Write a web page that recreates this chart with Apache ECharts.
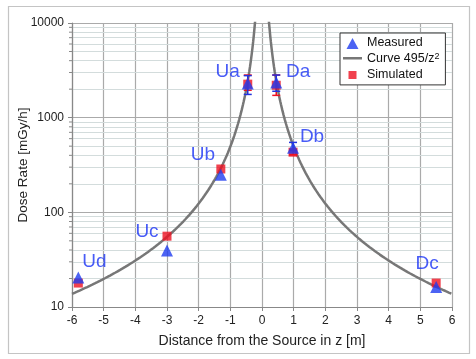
<!DOCTYPE html>
<html>
<head>
<meta charset="utf-8">
<script src="https://cdn.jsdelivr.net/npm/echarts@6/dist/echarts.min.js"></script>
<style>
html, body { margin: 0; padding: 0; background: #fff; }
#main { width: 476px; height: 359px; }
</style>
</head>
<body>
<div id="main"></div>
<script>
// detector positions, upstream (U) to downstream (D)
var pointNames = ['Ud', 'Uc', 'Ub', 'Ua', 'Da', 'Db', 'Dc'];
var pointZ = [-5.8, -3.0, -1.3, -0.45, 0.45, 0.98, 5.5];
var measured = [20.5, 39.5, 250, 2290, 2350, 480, 16.3];
var measLow = [null, null, null, 1760, 1900, 450, null];
var measHigh = [null, null, null, 2780, 2820, 548, null];
var simulated = [17.9, 56, 287, 2260, 2200, 432, 17.9];
var simLow = [null, null, null, 1950, 1720, 405, null];
var simHigh = [null, null, null, 2820, 2820, 460, null];
var curveCoef = 495; // legend: Curve 495/z^2
var yMinor = [20, 30, 40, 50, 60, 70, 80, 90,
  200, 300, 400, 500, 600, 700, 800, 900,
  2000, 3000, 4000, 5000, 6000, 7000, 8000, 9000];

// label placement (px from the triangle)
var labelOffsets = [[16, -16], [-20, -19], [-18, -20], [-20, -12], [22, -11], [19, -11], [-9, -23]];

var blue = '#1f3cf0';
var red = '#ee1122';
var font = 'Liberation Sans, Arial, sans-serif';
// legend icons in a 19x12 box (corner dots keep the box size)
var box = 'M0,0L0.01,0Z M19,12L18.99,12Z ';
var iconTri = 'path://' + box + 'M3.5,12L9.5,1L15.5,12Z';
var iconLine = 'path://' + box + 'M0,4.8H19V7.2H0Z';
var iconRect = 'path://' + box + 'M5.5,2H13.5V10H5.5Z';

var curve = [];
for (var z = -6; z <= -0.199; z += 0.02) curve.push([z, curveCoef / (z * z)]);
curve.push([0, null]);
for (var z2 = 0.2; z2 <= 6.001; z2 += 0.02) curve.push([z2, curveCoef / (z2 * z2)]);

function errData(low, high) {
  var d = [];
  for (var i = 0; i < pointZ.length; i++) {
    if (low[i] != null) d.push([pointZ[i], low[i], high[i]]);
  }
  return d;
}

function errSeries(name, low, high, color) {
  return {
    name: name,
    type: 'custom',
    silent: true,
    z: 4,
    encode: { x: 0, y: [1, 2] },
    data: errData(low, high),
    renderItem: function (params, api) {
      var x = api.value(0);
      var lo = api.coord([x, api.value(1)]);
      var hi = api.coord([x, api.value(2)]);
      var w = 4;
      var st = { stroke: color, lineWidth: 1.5 };
      return {
        type: 'group',
        children: [
          { type: 'line', shape: { x1: lo[0], y1: lo[1], x2: hi[0], y2: hi[1] }, style: st },
          { type: 'line', shape: { x1: lo[0] - w, y1: lo[1], x2: lo[0] + w, y2: lo[1] }, style: st },
          { type: 'line', shape: { x1: hi[0] - w, y1: hi[1], x2: hi[0] + w, y2: hi[1] }, style: st }
        ]
      };
    }
  };
}

var chart = echarts.init(document.getElementById('main'));
chart.setOption({
  animation: false,
  backgroundColor: '#fff',
  textStyle: { fontFamily: font },
  graphic: [{
    type: 'rect',
    silent: true,
    z: -10,
    shape: { x: 8.5, y: 6.5, width: 461, height: 347 },
    style: { fill: 'none', stroke: '#c4c4c4', lineWidth: 1.2 }
  }],
  grid: { left: 72, right: 24, top: 23, bottom: 52, outerBoundsMode: 'none' },
  legend: {
    orient: 'vertical',
    z: 100,
    left: 340,
    top: 33,
    backgroundColor: '#fff',
    borderColor: '#333',
    borderWidth: 1,
    padding: [3.5, 6, 3.5, 3],
    itemWidth: 19,
    itemHeight: 12,
    itemGap: 2.2,
    textStyle: {
      fontSize: 12.5, color: '#111', lineHeight: 12,
      rich: { sup: { fontSize: 9, verticalAlign: 'top', lineHeight: 9, padding: [0, 0, 5, 0] } }
    },
    formatter: function (name) {
      return name === 'Curve' ? 'Curve 495/z{sup|2}' : name;
    },
    data: [
      { name: 'Measured', icon: iconTri },
      { name: 'Curve', icon: iconLine },
      { name: 'Simulated', icon: iconRect }
    ]
  },
  xAxis: {
    type: 'value',
    min: -6,
    max: 6,
    interval: 1,
    name: 'Distance from the Source in z [m]',
    nameLocation: 'middle',
    nameGap: 27,
    nameMoveOverlap: false,
    nameTextStyle: { fontSize: 14, color: '#222' },
    axisLine: { show: true, onZero: false, lineStyle: { color: '#888', width: 1.2 } },
    axisTick: { show: true, length: 4, lineStyle: { color: '#888' } },
    axisLabel: { fontSize: 12, color: '#222', margin: 8 },
    splitLine: { show: true, lineStyle: { color: '#aaa', width: 1.2 } }
  },
  yAxis: {
    type: 'log',
    logBase: 10,
    min: 10,
    max: 10000,
    name: 'Dose Rate [mGy/h]',
    nameLocation: 'middle',
    nameGap: 42,
    nameMoveOverlap: false,
    nameTextStyle: { fontSize: 13.5, color: '#222' },
    axisLine: { show: true, onZero: false, lineStyle: { color: '#888', width: 1.2 } },
    axisTick: { show: true, length: 4, lineStyle: { color: '#888' } },
    axisLabel: { fontSize: 12, color: '#222', margin: 8, formatter: function (v) { return String(v); } },
    splitLine: { show: true, lineStyle: { color: '#aaa', width: 1.2 } }
  },
  series: [
    {
      name: 'minor grid',
      type: 'line',
      data: [],
      silent: true,
      z: 0,
      markLine: {
        silent: true,
        z: 0,
        symbol: ['none', 'none'],
        label: { show: false },
        lineStyle: { color: '#d3dcdc', width: 1.2, type: 'solid' },
        emphasis: { disabled: true },
        data: yMinor.map(function (v) { return { yAxis: v }; })
      }
    },
    {
      name: 'minor ticks',
      type: 'custom',
      silent: true,
      data: yMinor.map(function (v) { return [-6, v]; }),
      renderItem: function (params, api) {
        var p = api.coord([api.value(0), api.value(1)]);
        return { type: 'line', shape: { x1: p[0] - 3, y1: p[1], x2: p[0], y2: p[1] }, style: { stroke: '#888', lineWidth: 1 } };
      }
    },
    {
      name: 'Curve',
      type: 'line',
      symbol: 'none',
      z: 3,
      data: curve,
      lineStyle: { color: '#777', width: 2.5 },
      itemStyle: { color: '#777' },
      silent: true
    },
    {
      name: 'Simulated',
      type: 'scatter',
      symbol: 'rect',
      symbolSize: 9,
      z: 4,
      itemStyle: { color: red },
      data: pointZ.map(function (x, i) { return [x, simulated[i]]; })
    },
    errSeries('Simulated error', simLow, simHigh, red),
    errSeries('Measured error', measLow, measHigh, '#2233dd'),
    {
      name: 'Measured',
      type: 'scatter',
      symbol: 'triangle',
      symbolSize: 12,
      z: 5,
      itemStyle: { color: blue },
      data: pointZ.map(function (x, i) {
        return {
          value: [x, measured[i]],
          label: {
            show: true,
            position: 'inside',
            offset: labelOffsets[i],
            formatter: pointNames[i],
            fontSize: 19,
            color: '#1a33f5'
          }
        };
      })
    }
  ]
});
</script>
</body>
</html>
